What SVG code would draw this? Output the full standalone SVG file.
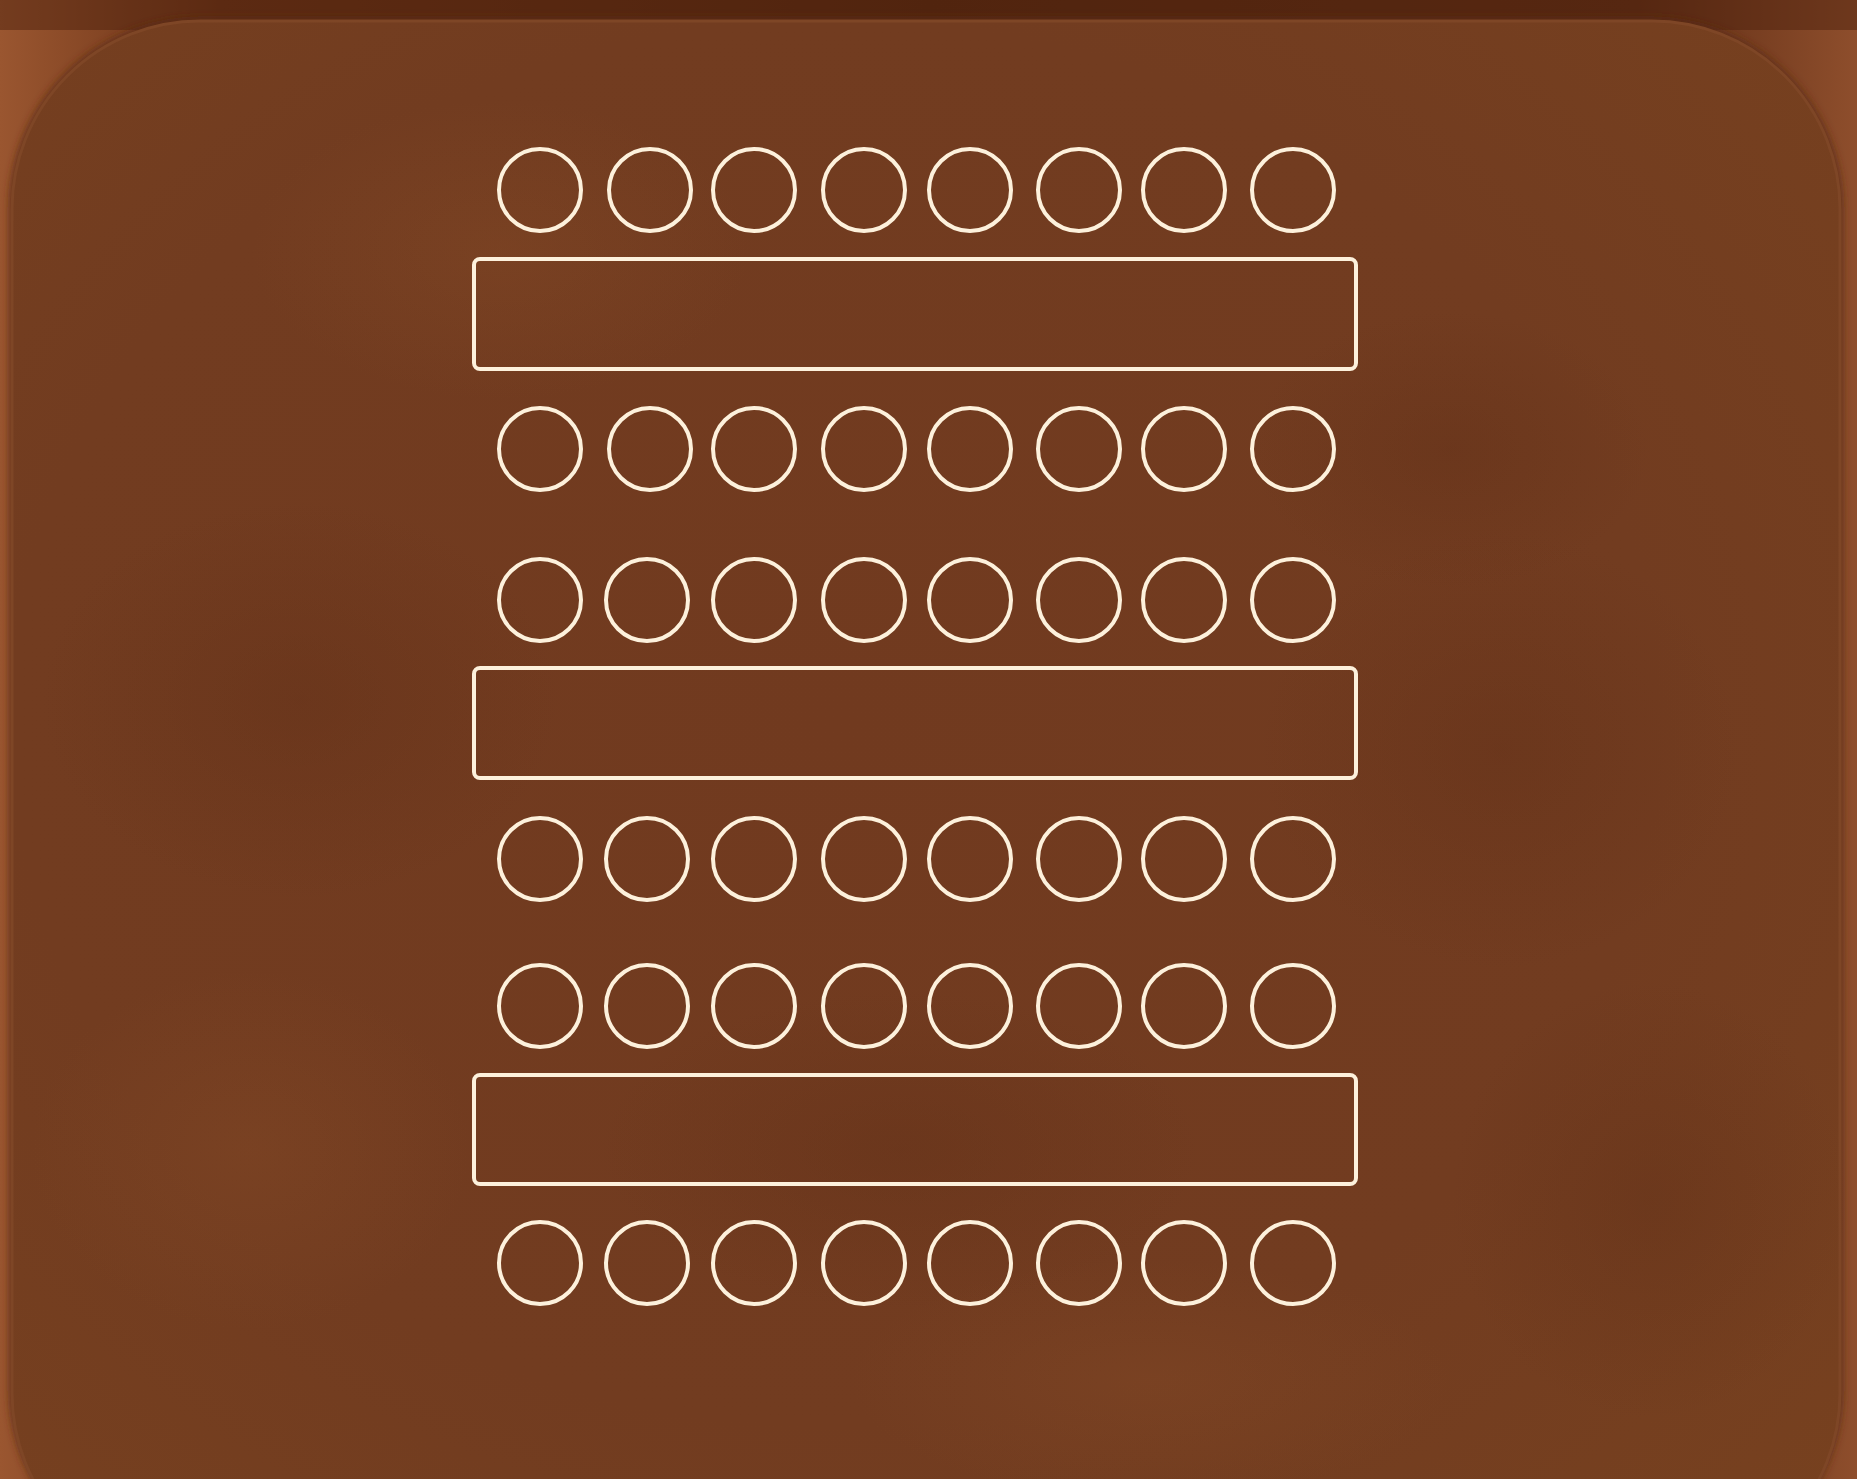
<svg xmlns="http://www.w3.org/2000/svg" width="1857" height="1479" viewBox="0 0 1857 1479">
  <defs>
    <linearGradient id="frameGrad" x1="0" y1="0" x2="1" y2="0">
      <stop offset="0" stop-color="#9a5630"/>
      <stop offset="0.12" stop-color="#6a3216"/>
      <stop offset="0.5" stop-color="#55270f"/>
      <stop offset="0.88" stop-color="#5e2c14"/>
      <stop offset="1" stop-color="#8e4e2c"/>
    </linearGradient>
    <radialGradient id="panelGrad" cx="0.45" cy="0.45" r="0.75">
      <stop offset="0" stop-color="#713a1f"/>
      <stop offset="0.6" stop-color="#723c20"/>
      <stop offset="1" stop-color="#77411f"/>
    </radialGradient>
    <radialGradient id="blotch" cx="0.5" cy="0.5" r="0.5">
      <stop offset="0" stop-color="#5f2e16" stop-opacity="0.35"/>
      <stop offset="1" stop-color="#5f2e16" stop-opacity="0"/>
    </radialGradient>
    <radialGradient id="blotchLight" cx="0.5" cy="0.5" r="0.5">
      <stop offset="0" stop-color="#8a4e28" stop-opacity="0.3"/>
      <stop offset="1" stop-color="#8a4e28" stop-opacity="0"/>
    </radialGradient>
    <filter id="soft" x="-5%" y="-5%" width="110%" height="110%">
      <feGaussianBlur stdDeviation="4"/>
    </filter>
    <style>
      .seat { fill: none; stroke: #fdf1dc; stroke-width: 4; }
      .table { fill: none; stroke: #fdf1dc; stroke-width: 4; }
    </style>
  </defs>

  <!-- background frame -->
  <rect x="0" y="0" width="1857" height="1479" fill="url(#frameGrad)"/>
  <rect x="0" y="0" width="1857" height="30" fill="#4d220d" opacity="0.5"/>

  <!-- panel -->
  <rect x="10" y="19" width="1832" height="1560" rx="190" ry="190" fill="#5a2a13" filter="url(#soft)"/>
  <rect x="12" y="21" width="1828" height="1560" rx="188" ry="188" fill="url(#panelGrad)" stroke="#7e4626" stroke-width="3"/>

  <!-- texture blotches -->
  <g>
    <ellipse cx="300" cy="700" rx="260" ry="200" fill="url(#blotch)"/>
    <ellipse cx="1500" cy="750" rx="240" ry="220" fill="url(#blotch)"/>
    <ellipse cx="1450" cy="450" rx="200" ry="140" fill="url(#blotch)"/>
    <ellipse cx="900" cy="1150" rx="300" ry="160" fill="url(#blotch)"/>
    <ellipse cx="250" cy="1150" rx="220" ry="180" fill="url(#blotchLight)"/>
    <ellipse cx="1150" cy="1380" rx="300" ry="120" fill="url(#blotchLight)"/>
    <ellipse cx="500" cy="250" rx="250" ry="150" fill="url(#blotchLight)"/>
    <ellipse cx="1650" cy="1200" rx="200" ry="220" fill="url(#blotch)"/>
  </g>

  <!-- tables -->
  <g id="table-1"><rect class="table" x="474" y="259" width="882" height="110" rx="6"/></g>
  <g id="table-2"><rect class="table" x="474" y="668" width="882" height="110" rx="6"/></g>
  <g id="table-3"><rect class="table" x="474" y="1075" width="882" height="109" rx="6"/></g>

  <!-- seats row 1 -->
  <g id="row-1">
    <circle class="seat" cx="540" cy="190" r="41"/>
    <circle class="seat" cx="650" cy="190" r="41"/>
    <circle class="seat" cx="754" cy="190" r="41"/>
    <circle class="seat" cx="864" cy="190" r="41"/>
    <circle class="seat" cx="970" cy="190" r="41"/>
    <circle class="seat" cx="1079" cy="190" r="41"/>
    <circle class="seat" cx="1184" cy="190" r="41"/>
    <circle class="seat" cx="1293" cy="190" r="41"/>
  </g>
  <g id="row-2">
    <circle class="seat" cx="540" cy="449" r="41"/>
    <circle class="seat" cx="650" cy="449" r="41"/>
    <circle class="seat" cx="754" cy="449" r="41"/>
    <circle class="seat" cx="864" cy="449" r="41"/>
    <circle class="seat" cx="970" cy="449" r="41"/>
    <circle class="seat" cx="1079" cy="449" r="41"/>
    <circle class="seat" cx="1184" cy="449" r="41"/>
    <circle class="seat" cx="1293" cy="449" r="41"/>
  </g>
  <g id="row-3">
    <circle class="seat" cx="540" cy="600" r="41"/>
    <circle class="seat" cx="647" cy="600" r="41"/>
    <circle class="seat" cx="754" cy="600" r="41"/>
    <circle class="seat" cx="864" cy="600" r="41"/>
    <circle class="seat" cx="970" cy="600" r="41"/>
    <circle class="seat" cx="1079" cy="600" r="41"/>
    <circle class="seat" cx="1184" cy="600" r="41"/>
    <circle class="seat" cx="1293" cy="600" r="41"/>
  </g>
  <g id="row-4">
    <circle class="seat" cx="540" cy="859" r="41"/>
    <circle class="seat" cx="647" cy="859" r="41"/>
    <circle class="seat" cx="754" cy="859" r="41"/>
    <circle class="seat" cx="864" cy="859" r="41"/>
    <circle class="seat" cx="970" cy="859" r="41"/>
    <circle class="seat" cx="1079" cy="859" r="41"/>
    <circle class="seat" cx="1184" cy="859" r="41"/>
    <circle class="seat" cx="1293" cy="859" r="41"/>
  </g>
  <g id="row-5">
    <circle class="seat" cx="540" cy="1006" r="41"/>
    <circle class="seat" cx="647" cy="1006" r="41"/>
    <circle class="seat" cx="754" cy="1006" r="41"/>
    <circle class="seat" cx="864" cy="1006" r="41"/>
    <circle class="seat" cx="970" cy="1006" r="41"/>
    <circle class="seat" cx="1079" cy="1006" r="41"/>
    <circle class="seat" cx="1184" cy="1006" r="41"/>
    <circle class="seat" cx="1293" cy="1006" r="41"/>
  </g>
  <g id="row-6">
    <circle class="seat" cx="540" cy="1263" r="41"/>
    <circle class="seat" cx="647" cy="1263" r="41"/>
    <circle class="seat" cx="754" cy="1263" r="41"/>
    <circle class="seat" cx="864" cy="1263" r="41"/>
    <circle class="seat" cx="970" cy="1263" r="41"/>
    <circle class="seat" cx="1079" cy="1263" r="41"/>
    <circle class="seat" cx="1184" cy="1263" r="41"/>
    <circle class="seat" cx="1293" cy="1263" r="41"/>
  </g>
  <g id="connectors"/>
</svg>
